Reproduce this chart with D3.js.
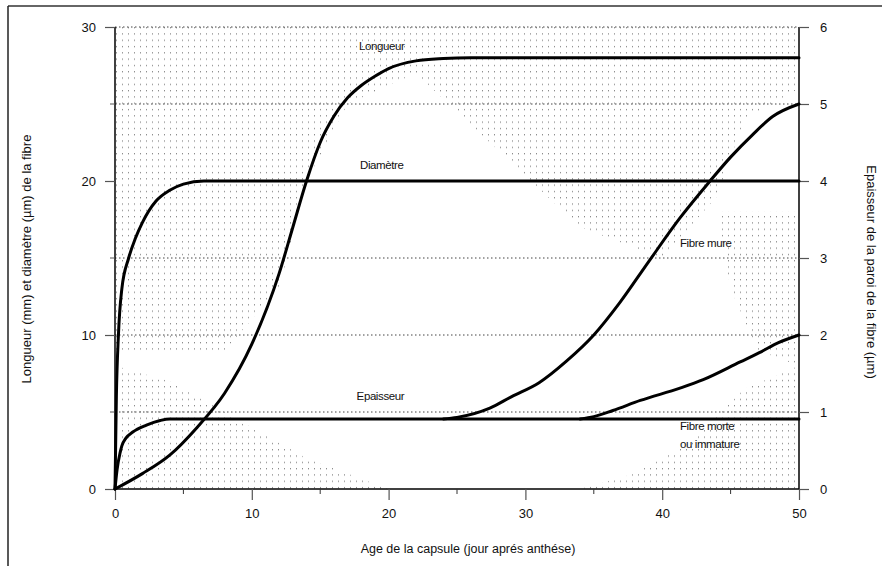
<!DOCTYPE html>
<html>
<head>
<meta charset="utf-8">
<script src="https://cdn.jsdelivr.net/npm/d3@7"></script>
<style>
  body { margin: 0; background: #fff; }
  text { font-family: "Liberation Sans", Arial, sans-serif; fill: #111; }
</style>
</head>
<body>
<div id="chart"></div>
<script>
// --- data (age in days after anthesis) ---
const longueurAge = [0, 2, 4, 6, 8, 10, 12, 13, 14, 15, 16, 17, 18, 19, 20, 22, 24, 26, 50];
const longueurVal = [0, 1, 2.2, 4, 6.2, 9.4, 14, 17, 20, 22.5, 24.2, 25.4, 26.2, 26.8, 27.3, 27.8, 27.95, 28, 28];

const diametreAge = [0, 0.1, 0.25, 0.5, 1, 1.5, 2, 3, 4, 5, 6.5, 50];
const diametreVal = [0, 6, 10, 13, 15, 16.3, 17.3, 18.7, 19.4, 19.8, 20, 20];

// right axis (µm)
const epaisseurAge = [0, 0.15, 0.37, 0.5, 0.8, 1.3, 2.3, 3.3, 4, 50];
const epaisseurVal = [0, 0.25, 0.47, 0.56, 0.66, 0.74, 0.83, 0.89, 0.91, 0.91];

const mureAge = [24, 25, 27.4, 29, 31, 33, 35, 36.9, 39, 41.3, 43.5, 45, 46.6, 48.1, 50];
const mureVal = [0.91, 0.93, 1.05, 1.2, 1.38, 1.66, 2.0, 2.42, 2.95, 3.52, 4.0, 4.31, 4.6, 4.84, 5.0];

const morteAge = [34, 35, 36.4, 38.4, 41.3, 43, 45.7, 47.1, 48.5, 50];
const morteVal = [0.91, 0.94, 1.02, 1.15, 1.31, 1.42, 1.65, 1.77, 1.9, 2.0];

const xTicks = [0, 10, 20, 30, 40, 50];
const xMinor = [5, 15, 25, 35, 45];
const leftTicks = [0, 10, 20, 30];
const leftMinor = [5, 15, 25];
const rightTicks = [0, 1, 2, 3, 4, 5, 6];
const gridVals = [5, 10, 15, 25, 30];

// labels placed in data coordinates (age, left-axis value)
const notes = [
  { text: "Longueur", x: 19.5, y: 28.5, anchor: "middle" },
  { text: "Diamètre", x: 19.5, y: 20.8, anchor: "middle" },
  { text: "Epaisseur", x: 19.4, y: 5.8, anchor: "middle" },
  { text: "Fibre mure", x: 41.3, y: 15.7, anchor: "start" },
  { text: "Fibre morte", x: 41.3, y: 3.8, anchor: "start" },
  { text: "ou immature", x: 41.3, y: 2.65, anchor: "start" }
];

// stippled background zones (age, left value)
const stipple = [
  [[0,30],[50,30],[50,26],[46,24],[44,19],[40,15],[34,17],[28,22],[22,27],[17,25],[14,20],[12,13],[8,9],[0,9]],
  [[0,0],[20,0],[14,2],[8,5],[4,7],[0,8]],
  [[34,0],[50,0],[50,8],[46,6.5],[42,3],[38,1]],
  [[44,18],[50,18],[50,8],[47,9],[45,13]]
];

const W = 882, H = 566;
const margin = { top: 27, right: 83, bottom: 77, left: 115 };

const svg = d3.select("#chart").append("svg")
  .attr("width", W)
  .attr("height", H);

const x = d3.scaleLinear().domain([0, 50]).range([margin.left, W - margin.right]);
const yL = d3.scaleLinear().domain([0, 30]).range([H - margin.bottom, margin.top]);
const yR = d3.scaleLinear().domain([0, 6]).range([H - margin.bottom, margin.top]);

// frame
svg.append("line").attr("x1", 8).attr("x2", W).attr("y1", 6).attr("y2", 6)
  .attr("stroke", "#666").attr("stroke-width", 2);
svg.append("line").attr("x1", 8).attr("x2", 8).attr("y1", 6).attr("y2", H)
  .attr("stroke", "#222").attr("stroke-width", 1.5);

// dot pattern
const pat = svg.append("defs").append("pattern")
  .attr("id", "dots").attr("patternUnits", "userSpaceOnUse")
  .attr("width", 6).attr("height", 6.3);
pat.append("rect").attr("x", 2).attr("y", 2).attr("width", 1).attr("height", 1).attr("fill", "#666");

svg.selectAll(".stip")
  .data(stipple)
  .enter().append("path")
  .attr("class", "stip")
  .attr("d", d => "M" + d.map(p => [x(p[0]), yL(p[1])].join(",")).join("L") + "Z")
  .attr("fill", "url(#dots)");

// grid
svg.selectAll(".grid")
  .data(gridVals)
  .enter().append("line")
  .attr("class", "grid")
  .attr("x1", x(0)).attr("x2", x(50))
  .attr("y1", d => yL(d)).attr("y2", d => yL(d))
  .attr("stroke", "#444").attr("stroke-width", 1)
  .attr("stroke-dasharray", "1.5,2.5");

// axes
const gx = svg.append("g").attr("transform", `translate(0,${yL(0)})`)
  .call(d3.axisBottom(x).tickValues(xTicks).tickSize(11).tickPadding(9).tickFormat(d3.format("d")));
gx.selectAll(".minor").data(xMinor).enter().append("line")
  .attr("x1", d => x(d)).attr("x2", d => x(d)).attr("y1", 0).attr("y2", 5)
  .attr("stroke", "#333");

const gl = svg.append("g").attr("transform", `translate(${x(0)},0)`)
  .call(d3.axisLeft(yL).tickValues(leftTicks).tickSize(10).tickPadding(9).tickFormat(d3.format("d")));
gl.selectAll(".minor").data(leftMinor).enter().append("line")
  .attr("x1", -5).attr("x2", 0).attr("y1", d => yL(d)).attr("y2", d => yL(d))
  .attr("stroke", "#555");

const gr = svg.append("g").attr("transform", `translate(${x(50)},0)`)
  .call(d3.axisRight(yR).tickValues(rightTicks).tickSize(10).tickPadding(11).tickFormat(d3.format("d")));

[gx, gl, gr].forEach(g => {
  g.select(".domain").attr("stroke", "#000").attr("stroke-width", 1.5);
  g.selectAll(".tick line").attr("stroke", "#555").attr("stroke-width", 1.2);
  g.selectAll(".tick text").style("font-size", "13px").style("font-family", "'Liberation Sans', Arial, sans-serif").attr("fill", "#111");
});
gl.select(".domain").attr("d", `M0,${yL(30)}V${yL(0)}`);
gr.select(".domain").attr("d", `M0,${yR(6)}V${yR(0)}`);
gx.select(".domain").attr("d", `M${x(0)},0H${x(50)}`);

// curves
const lineL = d3.line().x(d => x(d[0])).y(d => yL(d[1])).curve(d3.curveMonotoneX);
const lineR = d3.line().x(d => x(d[0])).y(d => yR(d[1])).curve(d3.curveMonotoneX);

const series = [
  { pts: d3.zip(longueurAge, longueurVal), line: lineL },
  { pts: d3.zip(diametreAge, diametreVal), line: lineL },
  { pts: d3.zip(epaisseurAge, epaisseurVal), line: lineR },
  { pts: d3.zip(mureAge, mureVal), line: lineR },
  { pts: d3.zip(morteAge, morteVal), line: lineR }
];

svg.selectAll(".curve")
  .data(series)
  .enter().append("path")
  .attr("class", "curve")
  .attr("d", d => d.line(d.pts))
  .attr("fill", "none")
  .attr("stroke", "#000")
  .attr("stroke-width", 3)
  .attr("stroke-linejoin", "round")
  .attr("stroke-linecap", "round");

// annotations
svg.selectAll(".note")
  .data(notes)
  .enter().append("text")
  .attr("class", "note")
  .attr("x", d => x(d.x))
  .attr("y", d => yL(d.y))
  .attr("text-anchor", d => d.anchor)
  .style("font-size", "11.5px")
  .style("letter-spacing", "-0.4px")
  .text(d => d.text);

// axis titles
svg.append("text")
  .attr("x", 468).attr("y", 553)
  .attr("text-anchor", "middle")
  .style("font-size", "12.5px")
  .text("Age de la capsule (jour aprés anthése)");

svg.append("text")
  .attr("transform", "translate(31,259) rotate(-90)")
  .attr("text-anchor", "middle")
  .style("font-size", "13px")
  .text("Longueur (mm) et diamètre (µm) de la fibre");

svg.append("text")
  .attr("transform", "translate(867,272) rotate(90)")
  .attr("text-anchor", "middle")
  .style("font-size", "13px")
  .text("Epaisseur de la paroi de la fibre (µm)");
</script>
</body>
</html>
